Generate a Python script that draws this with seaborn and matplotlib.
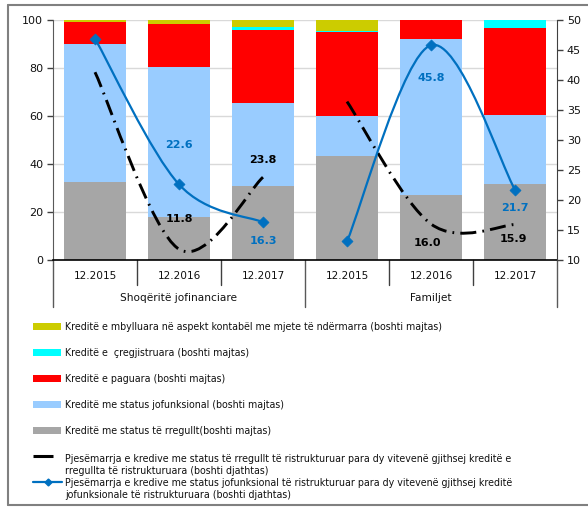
import numpy as np
import pandas as pd
import matplotlib
matplotlib.use("Agg")
import matplotlib.pyplot as plt
import matplotlib.transforms as mtransforms
from matplotlib.path import Path
from matplotlib.patches import PathPatch, Rectangle
from matplotlib.lines import Line2D
import seaborn as sns

# ---------------- data ----------------
groups = ["Shoqëritë jofinanciare", "Familjet"]
years = ["12.2015", "12.2016", "12.2017"]
categories = [f"{g} {y}" for g in groups for y in years]

regullt = [32.6, 18.0, 31.0, 43.5, 27.1, 31.8]        # grey
jofunksional = [57.3, 62.3, 34.3, 16.5, 64.9, 28.6]   # light blue
paguara = [9.4, 18.0, 30.5, 34.9, 8.0, 36.4]          # red
cregjistruara = [0.0, 0.0, 1.2, 0.5, 0.0, 3.2]        # cyan
mbylluara = [0.7, 1.7, 3.0, 4.6, 0.0, 0.0]            # yellow

share_regullt = [[41.3, 11.8, 23.8], [36.4, 16.0, 15.9]]     # black dash-dot (right axis)
share_jofunks = [[46.9, 22.6, 16.3], [13.1, 45.8, 21.7]]     # blue (right axis)

legend_labels = [
    "Kreditë e mbylluara në aspekt kontabël me mjete të ndërmarra (boshti majtas)",
    "Kreditë e  çregjistruara (boshti majtas)",
    "Kreditë e paguara (boshti majtas)",
    "Kreditë me status jofunksional (boshti majtas)",
    "Kreditë me status të rregullt(boshti majtas)",
    "Pjesëmarrja e kredive me status të rregullt të ristrukturuar para dy vitevenë gjithsej kreditë e\nrregullta të ristrukturuara (boshti djathtas)",
    "Pjesëmarrja e kredive me status jofunksional të ristrukturuar para dy vitevenë gjithsej kreditë\njofunksionale të ristrukturuara (boshti djathtas)",
]

# ---------------- style ----------------
sns.set_style("white")
plt.rcParams["font.family"] = ["DejaVu Sans"]
plt.rcParams["text.color"] = "#111111"
plt.rcParams["xtick.labelcolor"] = "#111111"
plt.rcParams["ytick.labelcolor"] = "#111111"

C_YEL = "#CCCC00"
C_CYA = "#00FFFF"
C_RED = "#FF0000"
C_LBL = "#99CCFF"
C_GRY = "#A6A6A6"
C_BLU = "#0070C0"

W, H = 588, 507
fig = plt.figure(figsize=(W / 100, H / 100), dpi=100)

def fx(px):
    return px / W

def fy(py):
    return 1 - py / H

L, R, T, B = 53, 557, 20, 260
ax = fig.add_axes([fx(L), fy(B), fx(R) - fx(L), fy(T) - fy(B)])

# stacked bars via overlaid cumulative sums
layers = [regullt, jofunksional, paguara, cregjistruara, mbylluara]
colors = [C_GRY, C_LBL, C_RED, C_CYA, C_YEL]
cums = np.cumsum(np.array(layers), axis=0)
for i in range(len(layers) - 1, -1, -1):
    df = pd.DataFrame({"cat": categories, "val": cums[i]})
    sns.barplot(data=df, x="cat", y="val", color=colors[i], saturation=1,
                width=0.74, errorbar=None, ax=ax, linewidth=0, order=categories)

ax.set_xlim(-0.5, 5.5)
ax.set_ylim(0, 100)
ax.set_yticks(range(0, 101, 20))
ax.set_xlabel("")
ax.set_ylabel("")
ax.set_xticks(range(6))
ax.set_xticklabels([])
ax.tick_params(axis="x", length=0)
ax.tick_params(axis="y", length=4, width=1, direction="out", labelsize=8, pad=3, color="#404040")
ax.yaxis.grid(True, color="#D9D9D9", linewidth=1)
ax.set_axisbelow(True)
for s in ["top", "right"]:
    ax.spines[s].set_visible(False)
ax.spines["left"].set_color("#595959")
ax.spines["bottom"].set_color("black")
ax.spines["bottom"].set_linewidth(1.2)

# multi-level x labels
trans = mtransforms.blended_transform_factory(ax.transData, ax.transAxes)
for i, c in enumerate(categories):
    ax.text(i, -16 / 240, years[i % 3], transform=trans, ha="center", va="center", fontsize=7.6)
for gi, g in enumerate(groups):
    ax.text(1 + 3 * gi, -38 / 240, g, transform=trans, ha="center", va="center", fontsize=7.6)
for xb in [0.5, 1.5, 3.5, 4.5]:
    ax.add_line(Line2D([xb, xb], [0, -25 / 240], transform=trans, color="#404040", lw=1, clip_on=False))
for xb in [-0.5, 2.5, 5.5]:
    ax.add_line(Line2D([xb, xb], [0, -47 / 240], transform=trans, color="#595959", lw=1, clip_on=False))

# right axis
ax2 = ax.twinx()
ax2.set_ylim(10, 50)
ax2.set_yticks(range(10, 51, 5))
ax2.tick_params(axis="y", length=4, width=1, direction="out", labelsize=8, pad=3, color="#404040")
for s in ["top", "left", "bottom"]:
    ax2.spines[s].set_visible(False)
ax2.spines["right"].set_color("#404040")
ax2.grid(False)


def smooth_path(xs, ys):
    pts = np.column_stack([xs, ys]).astype(float)
    n = len(pts)
    verts = [pts[0]]
    codes = [Path.MOVETO]
    for k in range(n - 1):
        p0 = pts[k - 1] if k > 0 else pts[k]
        p1 = pts[k]
        p2 = pts[k + 1]
        p3 = pts[k + 2] if k + 2 < n else pts[k + 1]
        c1 = p1 + (p2 - p0) / 6
        c2 = p2 - (p3 - p1) / 6
        verts += [c1, c2, p2]
        codes += [Path.CURVE4] * 3
    return Path(verts, codes)


lw_b = 2.1
for gi in range(2):
    xs = [3 * gi + j for j in range(3)]
    pb = PathPatch(smooth_path(xs, share_regullt[gi]), facecolor="none", edgecolor="black",
                   lw=lw_b, linestyle=(0, (5.5, 2.1, 0.6, 2.1)), capstyle="butt", zorder=4)
    ax2.add_patch(pb)
    pl = PathPatch(smooth_path(xs, share_jofunks[gi]), facecolor="none", edgecolor=C_BLU,
                   lw=1.6, zorder=5)
    ax2.add_patch(pl)
    dfm = pd.DataFrame({"x": xs, "y": share_jofunks[gi]})
    sns.scatterplot(data=dfm, x="x", y="y", marker="D", s=32, color=C_BLU,
                    edgecolor=C_BLU, ax=ax2, zorder=6)
ax2.set_xlabel("")
ax2.set_ylabel("")
ax2.set_xlim(-0.5, 5.5)

# data labels (offsets in pixels -> points)
def lab(x, y, text, dx, dy, color):
    ax2.annotate(text, (x, y), xytext=(dx * 0.72, dy * 0.72), textcoords="offset points",
                 ha="center", va="center", fontsize=8, fontweight="bold", color=color, zorder=7)

blue_lab = {(0, 1): (0, 39), (0, 2): (0, -19), (1, 1): (0, -33), (1, 2): (0, -18)}
black_lab = {(0, 1): (0, 30), (0, 2): (0, 17), (1, 1): (-4, -19), (1, 2): (-2, -14)}
for (gi, j), (dx, dy) in blue_lab.items():
    v = share_jofunks[gi][j]
    lab(3 * gi + j, v, f"{v:.1f}", dx, dy, C_BLU)
for (gi, j), (dx, dy) in black_lab.items():
    v = share_regullt[gi][j]
    lab(3 * gi + j, v, f"{v:.1f}", dx, dy, "black")

# ---------------- legend (pixel overlay) ----------------
lg = fig.add_axes([0, 0, 1, 1], zorder=-1)
lg.set_xlim(0, W)
lg.set_ylim(H, 0)
lg.axis("off")
lg.patch.set_alpha(0)

LFS = 6.85
rows = [326.5, 352.5, 378.5, 404.5, 430.5]
for r, c, t in zip(rows, [C_YEL, C_CYA, C_RED, C_LBL, C_GRY], legend_labels[:5]):
    lg.add_patch(Rectangle((33, r - 3.5), 28, 7, facecolor=c, edgecolor="none"))
    lg.text(65, r, t, fontsize=LFS, va="center", ha="left")
lg.add_line(Line2D([33, 53], [456, 456], color="black", lw=2.2, solid_capstyle="butt"))
lg.text(65, 464.5, legend_labels[5], fontsize=LFS, va="center", ha="left", linespacing=1.25)
lg.add_line(Line2D([33, 62], [482, 482], color=C_BLU, lw=1.6))
lg.add_line(Line2D([47.5], [482], color=C_BLU, marker="D", ms=3.5, lw=0))
lg.text(65, 489, legend_labels[6], fontsize=LFS, va="center", ha="left", linespacing=1.25)

# outer frame
lg.add_line(Line2D([8, 8], [5, 505], color="#808080", lw=1.5))
lg.add_line(Line2D([8, W], [5, 5], color="#808080", lw=1.5))
lg.add_line(Line2D([8, W], [505, 505], color="#808080", lw=1.5))

fig.savefig("out.png", dpi=100)
